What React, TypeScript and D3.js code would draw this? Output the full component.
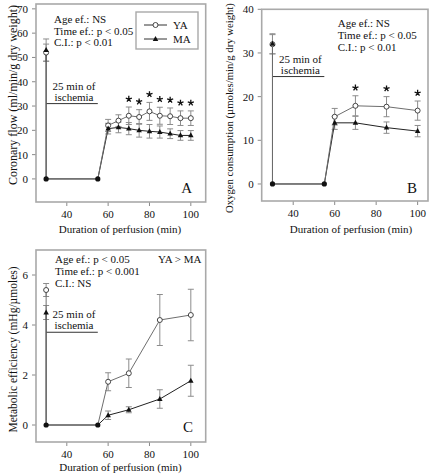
import React from "react";
import * as d3 from "d3";

// ---------- DATA ----------
// Panel A: Coronary flow
const flowBaseTime = 30;
const flowBaseYA = 52;
const flowBaseYAErr = 3.5;
const flowBaseMA = 53;
const flowBaseMAErr = 4.6;
const ischemiaTimes = [30, 55];
const ischemiaValues = [0, 0];
const flowTimes = [60, 65, 70, 75, 80, 85, 90, 95, 100];
const flowYA = [22, 24, 26, 25.5, 27.8, 26, 25.8, 25, 25];
const flowYAErr = [2.5, 2.4, 3.6, 3, 3.7, 3.5, 3.4, 3, 3];
const flowMA = [20.7, 21.2, 20.7, 20, 19.6, 19.3, 18.6, 17.9, 17.9];
const flowMAErr = [2.2, 2.2, 2.5, 2.8, 2.8, 2.5, 2, 2, 2];
const flowStars = [70, 75, 80, 85, 90, 95, 100];
const flowYTicks = [0, 10, 20, 30, 40, 50, 60, 70];
const flowStats = ["Age ef.: NS", "Time ef.: p < 0.05", "C.I.: p < 0.01"];

// Panel B: Oxygen consumption
const o2BaseYA = 32;
const o2BaseYAErr = 2.2;
const o2BaseMA = 32.1;
const o2BaseMAErr = 2.3;
const o2Times = [60, 70, 85, 100];
const o2YA = [15.4, 17.9, 17.7, 16.8];
const o2YAErr = [1.9, 2.3, 2.3, 2.2];
const o2MA = [14, 14, 12.9, 12.1];
const o2MAErr = [1.5, 1.5, 1.3, 1.3];
const o2Stars = [70, 85, 100];
const o2YTicks = [0, 10, 20, 30, 40];
const o2Stats = ["Age ef.: NS", "Time ef.: p < 0.05", "C.I.: p < 0.01"];

// Panel C: Metabolic efficiency
const effBaseYA = 5.4;
const effBaseYAErr = 0.26;
const effBaseMA = 4.5;
const effBaseMAErr = 0.28;
const effTimes = [60, 70, 85, 100];
const effYA = [1.73, 2.07, 4.2, 4.4];
const effYAErr = [0.36, 0.57, 1.02, 1.03];
const effMA = [0.39, 0.61, 1.04, 1.77];
const effMAErr = [0.17, 0.12, 0.37, 0.62];
const effStars: number[] = [];
const effYTicks = [0, 2, 4, 6];
const effStats = ["Age ef.: p < 0.05", "Time ef.: p < 0.001", "C.I.: NS"];

const xTicks = [40, 60, 80, 100];
const seriesNames = ["YA", "MA"];
const xLabel = "Duration of perfusion (min)";
const ischemiaLabel = ["25 min of", "ischemia"];

// ---------- DRAWING ----------
const FONT = "'Liberation Serif', 'Times New Roman', serif";
const FRAME = "#a9a9a9";
const TICK = "#8a8a8a";
const ERR = "#8c8c8c";
const LINE_YA = "#6e6e6e";
const LINE_MA = "#222";
const FS = 11;

type PanelProps = {
  frame: [number, number, number, number]; // x0,y0,x1,y1
  xDomain: [number, number];
  yDomain: [number, number];
  yTicks: number[];
  baseYA: number; baseYAErr: number; baseMA: number; baseMAErr: number;
  times: number[]; ya: number[]; yaErr: number[]; ma: number[]; maErr: number[];
  stars: number[];
  stats: string[];
  statsPos: [number, number];
  ischemiaY: number;
  yLabel: string;
  yLabelPos: [number, number];
  yLabelSize: number;
  xLabelPos: [number, number];
  tickLabelDy: number;
  letter: string;
  letterPos: [number, number];
  legend?: boolean;
  yaGtMa?: [number, number];
};

function triPath(cx: number, cy: number, s: number) {
  const h = s * 0.9;
  return `M${cx},${cy - h * 0.62}L${cx + s / 2},${cy + h * 0.38}L${cx - s / 2},${cy + h * 0.38}Z`;
}

function starPath(cx: number, cy: number, r: number) {
  let d = "";
  for (let k = 0; k < 5; k++) {
    const a = -Math.PI / 2 + (k * 2 * Math.PI) / 5;
    d += `M${cx},${cy}L${cx + r * Math.cos(a)},${cy + r * Math.sin(a)}`;
  }
  return d;
}

function Panel(p: PanelProps) {
  const [fx0, fy0, fx1, fy1] = p.frame;
  const x = d3.scaleLinear().domain(p.xDomain).range([fx0, fx1]);
  const y = d3.scaleLinear().domain(p.yDomain).range([fy1, fy0]);
  const ptsYA: [number, number][] = [
    [flowBaseTime, p.baseYA],
    ...ischemiaTimes.map((t, i) => [t, ischemiaValues[i]] as [number, number]),
    ...p.times.map((t, i) => [t, p.ya[i]] as [number, number]),
  ];
  const ptsMA: [number, number][] = [
    [flowBaseTime, p.baseMA],
    ...ischemiaTimes.map((t, i) => [t, ischemiaValues[i]] as [number, number]),
    ...p.times.map((t, i) => [t, p.ma[i]] as [number, number]),
  ];
  const line = d3.line<[number, number]>().x((d) => x(d[0])).y((d) => y(d[1]));
  const errs = [
    { t: flowBaseTime, v: p.baseYA, e: p.baseYAErr },
    { t: flowBaseTime, v: p.baseMA, e: p.baseMAErr },
    ...p.times.map((t, i) => ({ t, v: p.ya[i], e: p.yaErr[i] })),
    ...p.times.map((t, i) => ({ t, v: p.ma[i], e: p.maErr[i] })),
  ];
  const starTop = (t: number) => {
    const i = p.times.indexOf(t);
    return y(Math.max(p.ya[i] + p.yaErr[i], p.ma[i] + p.maErr[i]));
  };
  const isX0 = x(ischemiaTimes[0]);
  const isX1 = x(ischemiaTimes[1]);
  const isY = y(p.ischemiaY);
  const isCx = (isX0 + isX1) / 2 + 2;
  return (
    <g fontFamily={FONT} fill="#111">
      {/* ticks */}
      {p.yTicks.map((t) => (
        <g key={"yt" + t}>
          <line x1={fx0 - 4} x2={fx0} y1={y(t)} y2={y(t)} stroke={TICK} strokeWidth={1} />
          <text x={fx0 - 8} y={y(t) + 4} textAnchor="end" fontSize={FS}>{t}</text>
        </g>
      ))}
      {xTicks.map((t) => (
        <g key={"xt" + t}>
          <line x1={x(t)} x2={x(t)} y1={fy1} y2={fy1 + 4} stroke={TICK} strokeWidth={1} />
          <text x={x(t)} y={fy1 + p.tickLabelDy} textAnchor="middle" fontSize={FS}>{t}</text>
        </g>
      ))}
      {/* frame */}
      <rect x={fx0} y={fy0} width={fx1 - fx0} height={fy1 - fy0} fill="none" stroke={FRAME} strokeWidth={1.6} />
      {/* labels */}
      <text x={p.xLabelPos[0]} y={p.xLabelPos[1]} textAnchor="middle" fontSize={FS}>{xLabel}</text>
      <text transform={`translate(${p.yLabelPos[0]},${p.yLabelPos[1]}) rotate(-90)`} textAnchor="middle" fontSize={p.yLabelSize}>{p.yLabel}</text>
      {/* stats */}
      {p.stats.map((s, i) => (
        <text key={s} x={p.statsPos[0]} y={p.statsPos[1] + i * 11.8} fontSize={FS}>{s}</text>
      ))}
      {p.yaGtMa && <text x={p.yaGtMa[0]} y={p.yaGtMa[1]} fontSize={FS}>{seriesNames[0] + " > " + seriesNames[1]}</text>}
      {/* ischemia */}
      <text x={isCx} y={isY - 14} textAnchor="middle" fontSize={FS}>{ischemiaLabel[0]}</text>
      <text x={isCx} y={isY - 3} textAnchor="middle" fontSize={FS}>{ischemiaLabel[1]}</text>
      <line x1={isX0} x2={isX1} y1={isY} y2={isY} stroke="#333" strokeWidth={1} />
      {/* error bars */}
      {errs.map((d, i) => (
        <g key={"e" + i} stroke={ERR} strokeWidth={1}>
          <line x1={x(d.t)} x2={x(d.t)} y1={y(d.v - d.e)} y2={y(d.v + d.e)} />
          <line x1={x(d.t) - 3} x2={x(d.t) + 3} y1={y(d.v - d.e)} y2={y(d.v - d.e)} />
          <line x1={x(d.t) - 3} x2={x(d.t) + 3} y1={y(d.v + d.e)} y2={y(d.v + d.e)} />
        </g>
      ))}
      {/* lines */}
      <path d={line(ptsMA) || ""} fill="none" stroke={LINE_MA} strokeWidth={1} />
      <path d={line(ptsYA) || ""} fill="none" stroke={LINE_YA} strokeWidth={1} />
      {/* markers */}
      {p.times.map((t, i) => (
        <circle key={"c" + t} cx={x(t)} cy={y(p.ya[i])} r={2.5} fill="#fff" stroke="#333" strokeWidth={0.9} />
      ))}
      <circle cx={x(flowBaseTime)} cy={y(p.baseYA)} r={2.5} fill="#fff" stroke="#333" strokeWidth={0.9} />
      {p.times.map((t, i) => (
        <path key={"m" + t} d={triPath(x(t), y(p.ma[i]), 5.5)} fill="#111" />
      ))}
      <path d={triPath(x(flowBaseTime), y(p.baseMA), 5.5)} fill="#111" />
      {ischemiaTimes.map((t, i) => (
        <circle key={"i" + t} cx={x(t)} cy={y(ischemiaValues[i])} r={2.6} fill="#111" />
      ))}
      {/* stars */}
      {p.stars.map((t) => (
        <path key={"s" + t} d={starPath(x(t), starTop(t) - 8, 3.2)} stroke="#111" strokeWidth={1.3} fill="none" />
      ))}
      {/* legend */}
      {p.legend && (
        <g>
          <rect x={136} y={12} width={62} height={37} fill="#fff" stroke={FRAME} strokeWidth={1.4} />
          <line x1={144} x2={167} y1={25} y2={25} stroke="#333" strokeWidth={1} />
          <circle cx={155.5} cy={25} r={2.5} fill="#fff" stroke="#333" strokeWidth={0.9} />
          <text x={173} y={29} fontSize={FS}>{seriesNames[0]}</text>
          <line x1={144} x2={167} y1={39} y2={39} stroke="#333" strokeWidth={1} />
          <path d={triPath(155.5, 39, 5.5)} fill="#111" />
          <text x={173} y={43} fontSize={FS}>{seriesNames[1]}</text>
        </g>
      )}
      <text x={p.letterPos[0]} y={p.letterPos[1]} textAnchor="end" fontSize={15}>{p.letter}</text>
    </g>
  );
}

export default function App() {
  return (
    <svg width={429} height={476} style={{ position: "absolute", left: 0, top: 0, background: "#fff" }}>
      <Panel
        frame={[36, 4, 205.7, 202]}
        xDomain={[25.1, 107.2]}
        yDomain={[-9.5, 72]}
        yTicks={flowYTicks}
        baseYA={flowBaseYA} baseYAErr={flowBaseYAErr} baseMA={flowBaseMA} baseMAErr={flowBaseMAErr}
        times={flowTimes} ya={flowYA} yaErr={flowYAErr} ma={flowMA} maErr={flowMAErr}
        stars={flowStars}
        stats={flowStats}
        statsPos={[54, 22.7]}
        ischemiaY={31}
        yLabel="Coronary flow (ml/min/g dry weight)"
        yLabelPos={[17, 95]}
        yLabelSize={12}
        xLabelPos={[120, 233]}
        tickLabelDy={16}
        letter="A"
        letterPos={[192, 193]}
        legend
      />
      <Panel
        frame={[261.7, 9.3, 428, 201]}
        xDomain={[24.8, 105]}
        yDomain={[-3.9, 40]}
        yTicks={o2YTicks}
        baseYA={o2BaseYA} baseYAErr={o2BaseYAErr} baseMA={o2BaseMA} baseMAErr={o2BaseMAErr}
        times={o2Times} ya={o2YA} yaErr={o2YAErr} ma={o2MA} maErr={o2MAErr}
        stars={o2Stars}
        stats={o2Stats}
        statsPos={[337.7, 27.3]}
        ischemiaY={24.6}
        yLabel="Oxygen consumption (µmoles/min/g dry weight)"
        yLabelPos={[233, 108]}
        yLabelSize={10.7}
        xLabelPos={[351, 233]}
        tickLabelDy={16}
        letter="B"
        letterPos={[417, 193]}
      />
      <Panel
        frame={[36, 250, 205.7, 442]}
        xDomain={[25.1, 107.2]}
        yDomain={[-0.68, 7]}
        yTicks={effYTicks}
        baseYA={effBaseYA} baseYAErr={effBaseYAErr} baseMA={effBaseMA} baseMAErr={effBaseMAErr}
        times={effTimes} ya={effYA} yaErr={effYAErr} ma={effMA} maErr={effMAErr}
        stars={effStars}
        stats={effStats}
        statsPos={[55, 263.3]}
        ischemiaY={3.71}
        yLabel="Metabolic efficiency (mHg/µmoles)"
        yLabelPos={[17, 349.5]}
        yLabelSize={11.5}
        xLabelPos={[120.5, 470.5]}
        tickLabelDy={16}
        letter="C"
        letterPos={[193, 432.3]}
        yaGtMa={[158, 263.3]}
      />
    </svg>
  );
}
